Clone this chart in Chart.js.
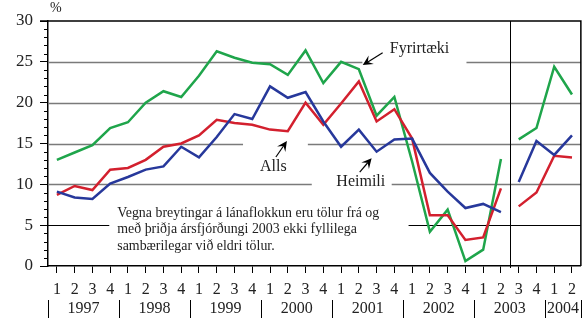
<!DOCTYPE html>
<html>
<head>
<meta charset="utf-8">
<script src="https://cdn.jsdelivr.net/npm/chart.js@4/dist/chart.umd.min.js"></script>
<style>
  html, body { margin: 0; padding: 0; background: #fff; }
  canvas { display: block; }
</style>
</head>
<body>
<canvas id="c" width="583" height="320"></canvas>
<script>
// Quarterly series, 1997 Q1 – 2004 Q2 (%)
const quarters = ['1','2','3','4','1','2','3','4','1','2','3','4','1','2','3','4',
                  '1','2','3','4','1','2','3','4','1','2','3','4','1','2'];
const years = ['1997','1998','1999','2000','2001','2002','2003','2004'];
const yearLengths = [4, 4, 4, 4, 4, 4, 4, 2];

const fyrirtaeki = [13.0, 13.9, 14.8, 16.9, 17.6, 20.0, 21.4, 20.7, 23.3, 26.3,
                    25.5, 24.9, 24.7, 23.4, 26.4, 22.4, 25.0, 24.1, 18.4, 20.7,
                    12.8, 4.2, 6.9, 0.6, 2.0, 13.1, 15.5, 16.9, 24.4, 21.0];
const alls = [8.7, 9.8, 9.3, 11.8, 12.0, 13.0, 14.6, 15.0, 16.0, 17.9,
              17.5, 17.3, 16.7, 16.5, 20.0, 17.3, 19.9, 22.6, 17.7, 19.2,
              15.6, 6.2, 6.2, 3.2, 3.5, 9.5, 7.3, 9.0, 13.5, 13.3];
const heimili = [9.1, 8.4, 8.2, 10.1, 10.9, 11.8, 12.2, 14.6, 13.3, 15.8,
                 18.6, 18.0, 22.0, 20.6, 21.3, 17.7, 14.6, 16.7, 14.0, 15.5,
                 15.6, 11.4, 9.1, 7.1, 7.6, 6.6, 10.3, 15.3, 13.6, 16.0];

// Series break: classification change between 2003 Q2 and Q3
const breakAfter = 25;

const noteLines = [
  'Vegna breytingar á lánaflokkun eru tölur frá og',
  'með þriðja ársfjórðungi 2003 ekki fyllilega',
  'sambærilegar við eldri tölur.'
];

const SERIF = '"Liberation Serif", "Times New Roman", serif';

// Horizontal reference lines, drawn in pieces so labels sit in the gaps
// [value, [[fromIndex, toIndex], ...], colour, width]
const gridSegments = [
  [25, [[-0.5, 17.2], [23.06, 29.5]], '#7a7a7a', 1.5],
  [20, [[-0.5, 29.5]], '#7a7a7a', 1.5],
  [15, [[-0.5, 10.48], [14.13, 29.5]], '#7a7a7a', 1.5],
  [10, [[-0.5, 14.35], [18.85, 29.5]], '#7a7a7a', 1.5],
  [5,  [[-0.5, 2.95], [19.8, 29.5]], '#000', 1]
];

function hideBreak(ctx) {
  return ctx.p0DataIndex === breakAfter ? 'rgba(0,0,0,0)' : undefined;
}

function arrow(ctx, x0, y0, x1, y1) {
  const a = Math.atan2(y1 - y0, x1 - x0);
  const L = 10, W = 5;
  ctx.save();
  ctx.strokeStyle = '#000';
  ctx.fillStyle = '#000';
  ctx.lineWidth = 1.2;
  ctx.beginPath();
  ctx.moveTo(x0, y0);
  ctx.lineTo(x1 - Math.cos(a) * L * 0.6, y1 - Math.sin(a) * L * 0.6);
  ctx.stroke();
  ctx.beginPath();
  ctx.moveTo(x1, y1);
  ctx.lineTo(x1 - L * Math.cos(a) + W * Math.sin(a), y1 - L * Math.sin(a) - W * Math.cos(a));
  ctx.lineTo(x1 - L * 0.6 * Math.cos(a), y1 - L * 0.6 * Math.sin(a));
  ctx.lineTo(x1 - L * Math.cos(a) - W * Math.sin(a), y1 - L * Math.sin(a) + W * Math.cos(a));
  ctx.closePath();
  ctx.fill();
  ctx.restore();
}

const framePlugin = {
  id: 'frame',
  beforeDatasetsDraw(chart) {
    const { ctx, chartArea: ca, scales: { x, y } } = chart;
    ctx.save();
    // reference lines
    gridSegments.forEach(([v, segs, col, w]) => {
      const py = Math.round(y.getPixelForValue(v)) + 0.5;
      ctx.strokeStyle = col;
      ctx.lineWidth = w;
      segs.forEach(([a, b]) => {
        ctx.beginPath();
        ctx.moveTo(x.getPixelForValue(a), py);
        ctx.lineTo(x.getPixelForValue(b), py);
        ctx.stroke();
      });
    });
    // top and right edges, break line
    ctx.strokeStyle = '#000';
    ctx.lineWidth = 1.5;
    ctx.beginPath();
    ctx.moveTo(ca.left - 8, ca.top);
    ctx.lineTo(ca.right, ca.top);
    ctx.lineTo(ca.right, ca.bottom);
    ctx.stroke();
    ctx.lineWidth = 1;
    const bx = Math.round(x.getPixelForValue(breakAfter + 0.5)) + 0.5;
    ctx.beginPath();
    ctx.moveTo(bx, ca.top);
    ctx.lineTo(bx, ca.bottom + 2);
    ctx.stroke();
    // minor ticks on the value axis
    for (let v = 0; v <= 30; v++) {
      if (v % 5 === 0) continue;
      const py = Math.round(y.getPixelForValue(v)) + 0.5;
      ctx.beginPath();
      ctx.moveTo(ca.left - 4, py);
      ctx.lineTo(ca.left, py);
      ctx.stroke();
    }
    ctx.restore();
  },
  afterDraw(chart) {
    const { ctx, chartArea: ca, scales: { x, y } } = chart;
    ctx.save();
    // year labels with separators
    ctx.strokeStyle = '#000';
    ctx.lineWidth = 1;
    ctx.fillStyle = '#222';
    ctx.font = '16px ' + SERIF;
    ctx.textAlign = 'center';
    ctx.textBaseline = 'middle';
    let start = 0;
    const sep = idx => {
      const px = Math.round(x.getPixelForValue(idx)) + 0.5;
      ctx.beginPath();
      ctx.moveTo(px, 300);
      ctx.lineTo(px, 318);
      ctx.stroke();
    };
    sep(-0.5);
    years.forEach((yr, i) => {
      const end = start + yearLengths[i];
      const cx = (x.getPixelForValue(start - 0.5) + x.getPixelForValue(end - 0.5)) / 2;
      ctx.fillText(yr, cx, 309);
      sep(end - 0.5);
      start = end;
    });

    // unit
    ctx.textAlign = 'left';
    ctx.textBaseline = 'alphabetic';
    ctx.font = '14px ' + SERIF;
    ctx.fillText('%', ca.left + 2, 12);

    // series names
    ctx.font = '16px ' + SERIF;
    ctx.textBaseline = 'middle';
    ctx.textAlign = 'left';
    ctx.fillText('Fyrirtæki', x.getPixelForValue(18.74), y.getPixelForValue(26.6));
    ctx.textAlign = 'center';
    ctx.fillText('Alls', x.getPixelForValue(12.19), y.getPixelForValue(12.1));
    ctx.fillText('Heimili', x.getPixelForValue(17.11), y.getPixelForValue(10.3));

    arrow(ctx, x.getPixelForValue(18.34), y.getPixelForValue(26.1),
               x.getPixelForValue(17.22), y.getPixelForValue(24.6));
    arrow(ctx, x.getPixelForValue(12.33), y.getPixelForValue(13.35),
               x.getPixelForValue(12.95), y.getPixelForValue(15.3));
    arrow(ctx, x.getPixelForValue(17.05), y.getPixelForValue(11.5),
               x.getPixelForValue(17.72), y.getPixelForValue(13.2));

    // note
    ctx.font = '13.9px ' + SERIF;
    ctx.textAlign = 'left';
    ctx.textBaseline = 'alphabetic';
    const nx = x.getPixelForValue(3.4);
    [6.0, 4.0, 1.95].forEach((v, i) => ctx.fillText(noteLines[i], nx, y.getPixelForValue(v)));
    ctx.restore();
  }
};

const line = (label, data, color) => ({
  label, data,
  borderColor: color,
  borderWidth: 2.5,
  pointRadius: 0,
  tension: 0,
  fill: false,
  segment: { borderColor: hideBreak }
});

new Chart(document.getElementById('c'), {
  type: 'line',
  data: {
    labels: quarters,
    datasets: [
      line('Heimili', heimili, '#27389b'),
      line('Alls', alls, '#d3202e'),
      line('Fyrirtæki', fyrirtaeki, '#1fa54b')
    ]
  },
  options: {
    responsive: false,
    animation: false,
    devicePixelRatio: 1,
    layout: { padding: { top: 21, right: 1, left: 0, bottom: 0 } },
    plugins: { legend: { display: false }, tooltip: { enabled: false } },
    scales: {
      x: {
        type: 'category',
        offset: true,
        grid: { drawOnChartArea: false, drawTicks: true, tickLength: 7, color: '#000', lineWidth: 1 },
        border: { display: true, color: '#000', width: 1.5 },
        ticks: { autoSkip: false, maxRotation: 0, padding: 7, color: '#222', font: { family: SERIF, size: 16 } },
        afterFit: s => { s.height = 54; }
      },
      y: {
        min: 0, max: 30,
        grid: { drawOnChartArea: false, drawTicks: true, tickLength: 8, color: '#000', lineWidth: 1 },
        border: { display: true, color: '#000', width: 1.5 },
        ticks: { stepSize: 5, padding: 7, color: '#222', font: { family: SERIF, size: 17 } },
        afterFit: s => { s.width = 48; }
      }
    }
  },
  plugins: [framePlugin]
});
</script>
</body>
</html>
